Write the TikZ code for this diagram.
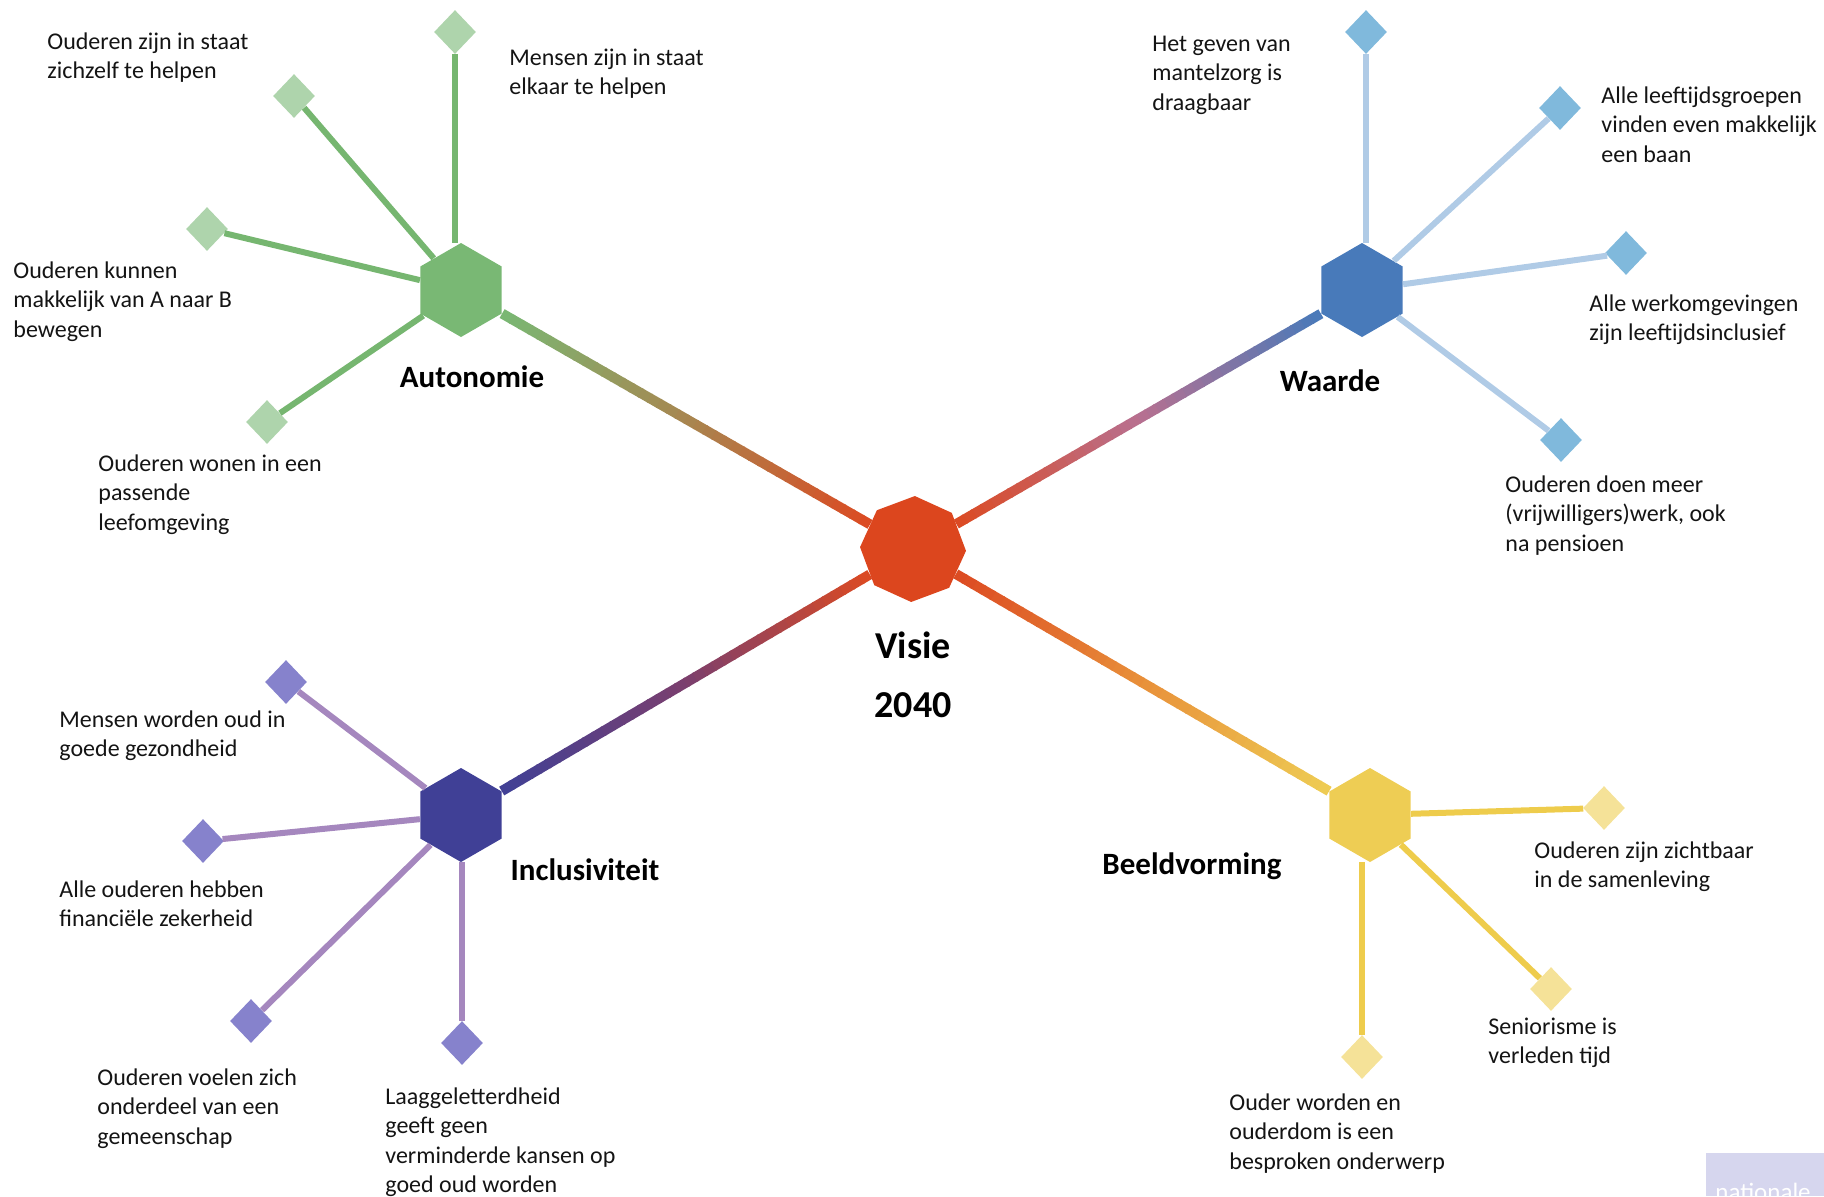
\documentclass[tikz,border=0pt]{standalone}
\usepackage{fontspec}
\setmainfont{Carlito}
\usetikzlibrary{shapes.geometric,calc}
\definecolor{ink}{HTML}{141414}
\definecolor{visC}{HTML}{DC461E}
\definecolor{visE}{HTML}{DC4A22}
\definecolor{autH}{HTML}{79B874}
\definecolor{autM}{HTML}{A88650}
\definecolor{autS}{HTML}{76B670}
\definecolor{autL}{HTML}{AED4AC}
\definecolor{waaH}{HTML}{487ABA}
\definecolor{waaM}{HTML}{B87090}
\definecolor{waaS}{HTML}{B0CBE6}
\definecolor{waaL}{HTML}{80B9DC}
\definecolor{incH}{HTML}{404096}
\definecolor{incM}{HTML}{7B3F6E}
\definecolor{incS}{HTML}{A587BE}
\definecolor{incL}{HTML}{8682CC}
\definecolor{beeH}{HTML}{EECD54}
\definecolor{beeM}{HTML}{E8903A}
\definecolor{beeS}{HTML}{EECC4C}
\definecolor{beeL}{HTML}{F5E298}
\definecolor{logoC}{HTML}{D6D6EE}
\tikzset{
  hub/.style={regular polygon, regular polygon sides=6, shape border rotate=30,
    minimum size=47pt, inner sep=0pt, fill=#1},
  gem/.style={diamond, minimum width=21pt, minimum height=22pt, inner sep=0pt, fill=#1},
  twig/.style={draw=#1, line width=3pt},
  leaftext/.style={anchor=base west, align=left, inner sep=0pt, text=ink,
    font=\fontsize{12}{14.75}\selectfont},
  hubtext/.style={anchor=base, inner sep=0pt, text=black,
    font=\fontsize{15.5}{18}\selectfont\bfseries}
}
\newcommand{\gradlink}[5]{
\path (#1) -- (#2) coordinate[pos=0] (#1s) coordinate[pos=1] (#1e);
\foreach \i in {0,...,39}{
  \pgfmathsetmacro\segt{(\i+0.5)/40}
  \pgfmathsetmacro\sega{\i/40}
  \pgfmathsetmacro\segb{min(1,(\i+1)/40+0.004)}
  \ifdim\segt pt<0.5pt
    \pgfmathsetmacro\mixp{200*\segt}\colorlet{seg}{#4!\mixp!#3}
  \else
    \pgfmathsetmacro\mixp{200*\segt-100}\colorlet{seg}{#5!\mixp!#4}
  \fi
  \draw[line width=5pt, seg] ($(#1s)!\sega!(#1e)$) -- ($(#1s)!\segb!(#1e)$);
}
}
% #5 = baseline of the last line
\newcommand{\leaf}[6]{
\node[gem=#4L] (#1) at (#2) {};
\draw[twig=#4S] (#1) -- (#3);
\path (#5) node[leaftext] (#1t) {#6};
}

\begin{document}
\begin{tikzpicture}[x=0.5pt,y=-0.5pt]
\useasboundingbox (0,0) rectangle (1824,1196);
\node[hub=autH] (aut) at (461,290) {};
\node[hub=waaH] (waa) at (1362,290) {};
\node[hub=incH] (inc) at (461,815) {};
\node[hub=beeH] (bee) at (1370,815) {};
\node[regular polygon, regular polygon sides=8, shape border rotate=20.5,
  minimum size=53pt, inner sep=0pt, fill=visC] (vis) at (913,549) {};

\gradlink{aut}{vis}{autH}{autM}{visE}
\gradlink{waa}{vis}{waaH}{waaM}{visE}
\gradlink{inc}{vis}{incH}{incM}{visE}
\gradlink{bee}{vis}{beeH}{beeM}{visE}

\path (913,658) node[hubtext, font=\fontsize{19}{22}\selectfont\bfseries] (vist) {Visie};
\path (913,717) node[hubtext, font=\fontsize{19}{22}\selectfont\bfseries] (jaar) {2040};
\path (472,387) node[hubtext] (autt) {Autonomie};
\path (1330,391) node[hubtext] (waat) {Waarde};
\path (585,880) node[hubtext] (inct) {Inclusiviteit};
\path (1192,874) node[hubtext] (beet) {Beeldvorming};

\leaf{a1}{455,32}{a1 |- aut.north}{aut}{509,94.5}{Mensen zijn in staat\\elkaar te helpen}
\leaf{a2}{294,96}{aut}{aut}{47,78.5}{Ouderen zijn in staat\\zichzelf te helpen}
\leaf{a3}{207,229}{aut}{aut}{13,337}{Ouderen kunnen\\makkelijk van A naar B\\bewegen}
\leaf{a4}{267,422}{aut}{aut}{98,530}{Ouderen wonen in een\\passende\\leefomgeving}

\leaf{w1}{1366,32}{w1 |- waa.north}{waa}{1152,110}{Het geven van\\mantelzorg is\\draagbaar}
\leaf{w2}{1560,108}{waa}{waa}{1601,162}{Alle leeftijdsgroepen\\vinden even makkelijk\\een baan}
\leaf{w3}{1626,253}{waa}{waa}{1589,340.5}{Alle werkomgevingen\\zijn leeftijdsinclusief}
\leaf{w4}{1561,440}{waa}{waa}{1505,551}{Ouderen doen meer\\(vrijwilligers)werk, ook\\na pensioen}

\leaf{i1}{286,682}{inc}{inc}{59,756.5}{Mensen worden oud in\\goede gezondheid}
\leaf{i2}{203,841}{inc}{inc}{59,926.5}{Alle ouderen hebben\\financiële zekerheid}
\leaf{i3}{251,1021}{inc}{inc}{97,1144}{Ouderen voelen zich\\onderdeel van een\\gemeenschap}
\leaf{i4}{462,1043}{i4 |- inc.south}{inc}{385,1192.5}{Laaggeletterdheid\\geeft geen\\verminderde kansen op\\goed oud worden}

\leaf{b1}{1604,808}{bee}{bee}{1534,887.5}{Ouderen zijn zichtbaar\\in de samenleving}
\leaf{b2}{1551,989}{bee}{bee}{1488,1063.5}{Seniorisme is\\verleden tijd}
\leaf{b3}{1362,1057}{b3 |- bee.south}{bee}{1229,1169}{Ouder worden en\\ouderdom is een\\besproken onderwerp}

\fill[logoC] (1706,1153) rectangle (1824,1196);
\path (1715,1200) node[anchor=base west, inner sep=0pt, text=white, font=\fontsize{12.5}{15}\selectfont] (logo) {nationale};
\end{tikzpicture}
\end{document}
